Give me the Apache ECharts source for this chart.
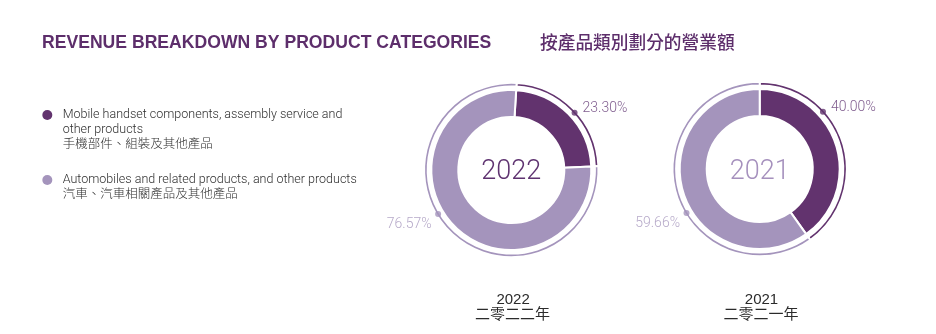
<!DOCTYPE html>
<html>
<head>
<meta charset="utf-8">
<script src="https://cdn.jsdelivr.net/npm/echarts@6/dist/echarts.min.js"></script>
<style>
  html, body { margin: 0; padding: 0; background: #ffffff; }
  #chart { width: 936px; height: 334px; }
</style>
</head>
<body>
<div id="chart"></div>
<script>
// ---- data ----
const categories = [
  'Mobile handset components, assembly service and other products',
  'Automobiles and related products, and other products'
];
const categoryLinesEn = [
  ['Mobile handset components, assembly service and', 'other products'],
  ['Automobiles and related products, and other products']
];
const categoriesZh = ['手機部件、組裝及其他產品', '汽車、汽車相關產品及其他產品'];
const years = ['2022', '2021'];
const yearsZh = ['二零二二年', '二零二一年'];
const share2022 = [23.30, 76.57];
const share2021 = [40.00, 59.66];

// ---- styling / layout ----
const DARK = '#62336e';
const LIGHT = '#a494bc';
const COLORS = [DARK, LIGHT];
const LABEL_COLORS = ['#5e3270', '#a292ba'];
const TITLE_COLOR = '#5d2e6b';
const LATIN = 'Roboto, "Noto Sans CJK TC", sans-serif';
const CJK = '"Noto Sans CJK TC", sans-serif';

const RING = [53, 80];        // thick band (white border trims 1px each side)
const THIN = [83.6, 87.2];    // thin outer arc
const DOT_R = 85.4;           // radius where the marker dots sit
const DOT_ANGLE = [47.8, 239];

const donuts = [
  { year: years[0], yearZh: yearsZh[0], shares: share2022, cx: 511.3, cy: 170, startAngle: 86.5, yearColor: '#5e3270' },
  { year: years[1], yearZh: yearsZh[1], shares: share2021, cx: 759.7, cy: 169, startAngle: 90, yearColor: '#a590bd' }
];

const series = [];
const polar = [];
const angleAxis = [];
const radiusAxis = [];
const graphic = [];

donuts.forEach((d, i) => {
  const pieData = categories.map((name, k) => ({
    name: name,
    value: d.shares[k],
    itemStyle: { color: COLORS[k] }
  }));
  const pieBase = {
    type: 'pie',
    center: [d.cx, d.cy],
    startAngle: d.startAngle,
    clockwise: true,
    silent: true,
    animation: false,
    label: { show: false },
    labelLine: { show: false },
    emphasis: { disabled: true },
    itemStyle: { borderColor: '#ffffff', borderWidth: 2 }
  };
  series.push(Object.assign({}, pieBase, { radius: RING, data: pieData }));
  series.push(Object.assign({}, pieBase, { radius: THIN, data: pieData }));

  polar.push({ center: [d.cx, d.cy], radius: 87 });
  angleAxis.push({
    polarIndex: i, type: 'value', min: 0, max: 360, startAngle: 90, clockwise: true,
    show: false, axisLine: { show: false }, axisTick: { show: false },
    axisLabel: { show: false }, splitLine: { show: false }
  });
  radiusAxis.push({ polarIndex: i, type: 'value', min: 0, max: 87, show: false });

  series.push({
    type: 'scatter',
    coordinateSystem: 'polar',
    polarIndex: i,
    symbol: 'circle',
    symbolSize: 6,
    silent: true,
    animation: false,
    data: categories.map((name, k) => ({
      value: [DOT_R, DOT_ANGLE[k], d.shares[k]],
      itemStyle: { color: COLORS[k] },
      label: {
        show: true,
        position: k === 0 ? 'right' : 'left',
        distance: k === 0 ? 5 : 3.5,
        offset: k === 0 ? [0, -4] : [0, 10.5],
        color: LABEL_COLORS[k],
        fontFamily: LATIN,
        fontWeight: 300,
        fontSize: 14,
        formatter: (p) => p.value[2].toFixed(2) + '%'
      }
    }))
  });

  // year in the middle of the ring
  graphic.push({
    type: 'text', x: d.cx, y: 172, silent: true,
    style: { text: d.year, align: 'center', verticalAlign: 'middle',
      fill: d.yearColor, font: '300 27px ' + LATIN }
  });
  // year caption under the ring
  graphic.push({
    type: 'text', x: d.cx + 1.8, y: 300, silent: true,
    style: { text: d.year, align: 'center', verticalAlign: 'middle',
      fill: '#2b2b2b', font: '15px "Liberation Sans", Arial, sans-serif' }
  });
  graphic.push({
    type: 'text', x: d.cx + 1.2, y: 313.5, silent: true,
    style: { text: d.yearZh, align: 'center', verticalAlign: 'middle',
      fill: '#2b2b2b', font: '15px ' + CJK }
  });
});

// headings
graphic.push({
  type: 'text', x: 42, y: 43.5, silent: true,
  style: { text: 'REVENUE BREAKDOWN BY PRODUCT CATEGORIES', align: 'left', verticalAlign: 'middle',
    fill: TITLE_COLOR, font: 'bold 17.6px "Liberation Sans", Arial, sans-serif' }
});
graphic.push({
  type: 'text', x: 540, y: 42.5, silent: true,
  style: { text: '按產品類別劃分的營業額', align: 'left', verticalAlign: 'middle',
    fill: TITLE_COLOR, font: '500 17.7px ' + CJK }
});

// legend: one block per category; leading blank lines put the icon
// level with the first line of text
const LINE_H = 15;
const legendTops = [77.5, 157.5];
const legend = categories.map((name, i) => {
  const lines = categoryLinesEn[i].concat([categoriesZh[i]]);
  const lead = new Array(lines.length - 1).fill('');
  return {
    data: [name],
    orient: 'vertical',
    left: 42.3,
    top: legendTops[i],
    padding: 0,
    icon: 'circle',
    itemWidth: 10,
    itemHeight: 10,
    selectedMode: false,
    itemStyle: { borderWidth: 0 },
    formatter: () => lead.concat(lines).join('\n'),
    textStyle: {
      fontFamily: LATIN,
      fontWeight: 300,
      fontSize: 12.5,
      lineHeight: LINE_H,
      color: '#2e2e2e',
      padding: [0, 0, 0, 5.4]
    }
  };
});

const chart = echarts.init(document.getElementById('chart'), null, { renderer: 'canvas' });
chart.setOption({
  backgroundColor: '#ffffff',
  animation: false,
  legend: legend,
  polar: polar,
  angleAxis: angleAxis,
  radiusAxis: radiusAxis,
  series: series,
  graphic: graphic
});
</script>
</body>
</html>
